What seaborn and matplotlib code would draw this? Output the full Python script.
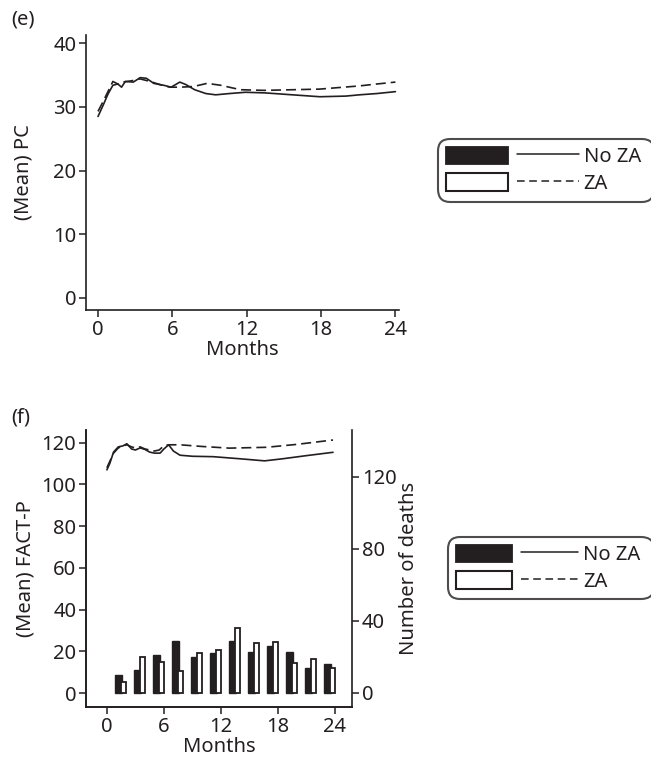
import matplotlib
matplotlib.use('Agg')
import matplotlib.pyplot as plt
import seaborn as sns
import pandas as pd
from matplotlib.patches import Patch
from matplotlib.lines import Line2D
from matplotlib.legend_handler import HandlerTuple

# Panel (e): mean PC over time
pc_months_noza = [0, 0.4, 0.8, 1.2, 1.6, 1.9, 2.2, 2.85, 3.4, 3.9, 4.5, 5.3, 5.9, 6.6, 7.1, 7.8,
                  8.7, 9.5, 10.6, 11.9, 13.5, 15.7, 17.9, 20.0, 21.1, 22.5, 24]
pc_noza = [28.5, 30.2, 32.0, 33.4, 33.6, 33.1, 34.0, 33.9, 34.6, 34.5, 33.7, 33.4, 33.1, 33.9, 33.5, 32.7,
           32.1, 31.9, 32.1, 32.3, 32.2, 31.9, 31.6, 31.7, 31.9, 32.1, 32.4]
pc_months_za = [0, 0.4, 0.8, 1.2, 1.6, 2.0, 2.7, 3.4, 4.2, 5.0, 5.8, 6.6, 7.7, 8.8, 9.9, 11.5,
                13.4, 15.7, 17.9, 21.1, 22.5, 24]
pc_za = [29.3, 30.8, 32.4, 34.0, 33.6, 33.9, 34.1, 34.4, 34.0, 33.5, 33.1, 33.1, 33.2, 33.7, 33.4, 32.7,
         32.6, 32.7, 32.8, 33.3, 33.6, 33.9]

# Panel (f): mean FACT-P over time
fp_months_noza = [0, 0.3, 0.7, 1.2, 1.7, 2.1, 2.6, 3.0, 3.5, 4.0, 4.5, 5.0, 5.6, 6.0, 6.5, 7.0, 7.7,
                  9.0, 11.2, 14.0, 16.6, 18.5, 21.0, 23.8]
fp_noza = [107, 110, 115.5, 118, 118.5, 119.5, 117, 116.5, 117.5, 116.8, 115.5, 115, 115, 117, 119, 116, 114,
           113.5, 113.3, 112.3, 111.3, 112.3, 113.8, 115.4]
fp_months_za = [0, 0.3, 0.7, 1.2, 1.7, 2.1, 2.6, 3.0, 3.5, 4.0, 4.5, 5.0, 5.5, 6.0, 6.5, 7.7,
                10.0, 12.9, 16.8, 20.0, 23.8]
fp_za = [108, 111, 115, 117.5, 118.5, 119, 118, 117.5, 118, 117, 116.5, 116, 116.5, 118.5, 119, 119,
         118.2, 117.4, 117.8, 119.2, 121.3]

# Number of deaths per two-month interval
death_months = [1, 3, 5, 7, 9, 11, 13, 15, 17, 19, 21, 23]
deaths_noza = [10, 13, 21, 29, 20, 22, 29, 23, 26, 23, 14, 16]
deaths_za = [6, 20, 17, 12, 22, 24, 36, 28, 28.5, 16.5, 19, 14]

DARK = '#231f20'
FS = 14.5
DASH = (0, (6, 3))

sns.set_theme(style='ticks')
plt.rcParams['font.family'] = ['Noto Sans', 'DejaVu Sans']
plt.rcParams['axes.edgecolor'] = DARK
plt.rcParams['axes.linewidth'] = 1.2
plt.rcParams['xtick.color'] = DARK
plt.rcParams['ytick.color'] = DARK
plt.rcParams['text.color'] = DARK
plt.rcParams['axes.labelcolor'] = DARK


def style_axis(ax):
    ax.tick_params(axis='both', labelsize=FS, length=5, width=1.1, pad=2, colors=DARK)


def add_legend(fig, x, y, hlen):
    handles = [
        (Patch(facecolor=DARK, edgecolor=DARK, linewidth=1.3),
         Line2D([], [], color=DARK, linewidth=1.1)),
        (Patch(facecolor='white', edgecolor=DARK, linewidth=1.5),
         Line2D([], [], color=DARK, linewidth=1.1, linestyle=(0, (5, 3)))),
    ]
    # trailing space: the box runs off the right edge, as in the original
    leg = fig.legend(handles, ['No ZA ', 'ZA'], loc='upper left', bbox_to_anchor=(x, y),
                     bbox_transform=fig.transFigure,
                     handler_map={tuple: HandlerTuple(ndivide=None, pad=0.45)},
                     handlelength=hlen, handleheight=0.95, handletextpad=0.25,
                     labelspacing=0.3, borderpad=0.38, borderaxespad=0,
                     fontsize=FS, frameon=True, fancybox=True)
    frame = leg.get_frame()
    frame.set_edgecolor(DARK)
    frame.set_linewidth(1.5)
    frame.set_boxstyle('round,pad=0,rounding_size=0.6')
    return leg


fig = plt.figure(figsize=(6.51, 7.67), dpi=100)

# ---- panel (e)
ax1 = fig.add_axes([0.1321, 0.5958, 0.481, 0.3586])
df_noza = pd.DataFrame({'Months': pc_months_noza, 'PC': pc_noza})
df_za = pd.DataFrame({'Months': pc_months_za, 'PC': pc_za})
sns.lineplot(data=df_noza, x='Months', y='PC', ax=ax1, color=DARK, linewidth=1.2, estimator=None, sort=False)
sns.lineplot(data=df_za, x='Months', y='PC', ax=ax1, color=DARK, linewidth=1.2, estimator=None, sort=False,
             linestyle=DASH)
ax1.set_xlim(-0.97, 24.3)
ax1.set_ylim(-1.9, 41.3)
ax1.set_xticks([0, 6, 12, 18, 24])
ax1.set_yticks([0, 10, 20, 30, 40])
ax1.set_xlabel('Months', fontsize=FS, labelpad=0)
ax1.set_ylabel('(Mean) PC', fontsize=FS, labelpad=14)
sns.despine(ax=ax1)
style_axis(ax1)

# ---- panel (f)
ax2 = fig.add_axes([0.1321, 0.0782, 0.4086, 0.3612])
ax3 = ax2.twinx()
ax3.bar([m + 0.25 for m in death_months], deaths_noza, width=0.7, color=DARK, edgecolor=DARK, linewidth=1.0)
ax3.bar([m + 0.78 for m in death_months], deaths_za, width=0.55, color='white', edgecolor=DARK, linewidth=1.3)
df2_noza = pd.DataFrame({'Months': fp_months_noza, 'FACT-P': fp_noza})
df2_za = pd.DataFrame({'Months': fp_months_za, 'FACT-P': fp_za})
sns.lineplot(data=df2_noza, x='Months', y='FACT-P', ax=ax2, color=DARK, linewidth=1.2, estimator=None, sort=False)
sns.lineplot(data=df2_za, x='Months', y='FACT-P', ax=ax2, color=DARK, linewidth=1.2, estimator=None, sort=False,
             linestyle=DASH)
ax2.set_zorder(ax3.get_zorder() + 1)
ax2.patch.set_visible(False)
ax2.set_xlim(-2.2, 25.8)
ax2.set_ylim(-6.7, 126.1)
ax3.set_ylim(-7.8, 146.1)
ax2.set_xticks([0, 6, 12, 18, 24])
ax2.set_yticks([0, 20, 40, 60, 80, 100, 120])
ax3.set_yticks([0, 40, 80, 120])
ax2.set_xlabel('Months', fontsize=FS, labelpad=0)
ax2.set_ylabel('(Mean) FACT-P', fontsize=FS, labelpad=4)
ax3.set_ylabel('Number of deaths', fontsize=FS, labelpad=2)
ax2.spines['top'].set_visible(False)
ax3.spines['top'].set_visible(False)
ax2.spines['right'].set_visible(False)
style_axis(ax2)
style_axis(ax3)
ax3.grid(False)
ax2.grid(False)

add_legend(fig, 0.673, 0.8188, 6.6)
add_legend(fig, 0.688, 0.3, 6.1)

fig.text(0.018, 0.975, '(e)', fontsize=FS, va='center', ha='left')
fig.text(0.018, 0.456, '(f)', fontsize=FS, va='center', ha='left')

fig.savefig('out.png', dpi=100)
